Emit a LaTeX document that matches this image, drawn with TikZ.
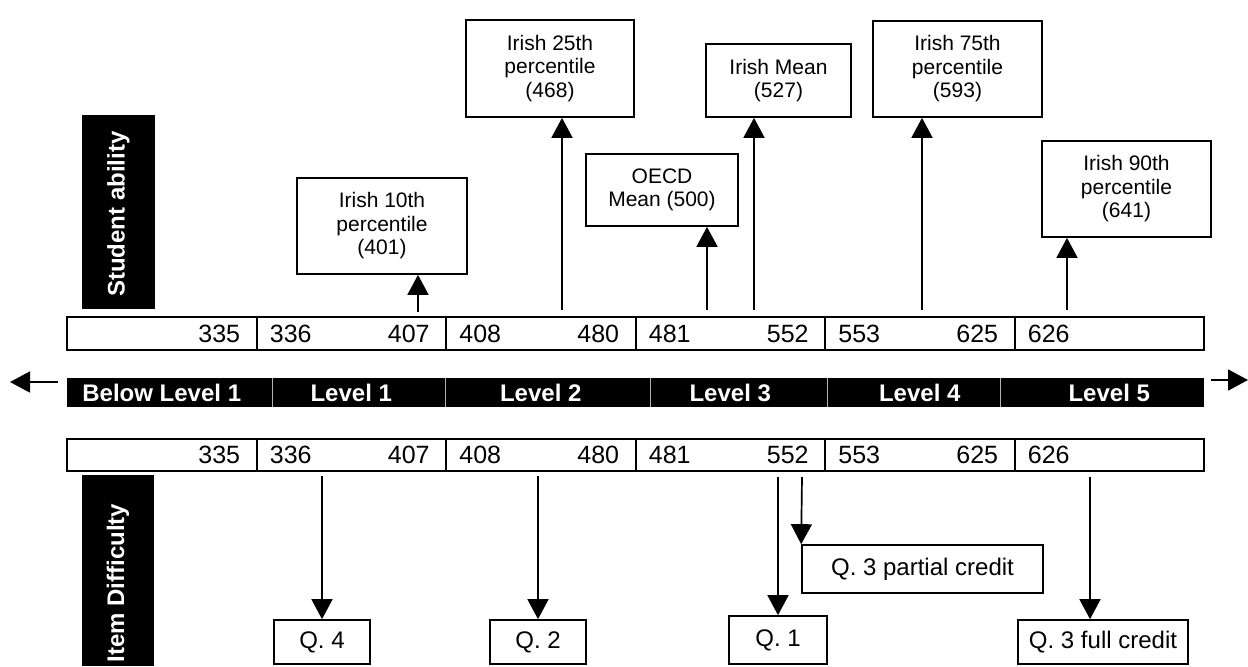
\documentclass[tikz,border=0pt]{standalone}
\usepackage{fontspec}
\setmainfont{Liberation Sans}
\usetikzlibrary{arrows.meta, positioning}

\begin{document}
\begin{tikzpicture}[
    x=0.5pt, y=-0.5pt,
    cell/.style={draw, line width=1pt, minimum width=94.75pt, inner sep=0pt},
    num/.style={inner sep=0pt, font=\fontsize{12.5}{15}\selectfont},
    band/.style={fill=black, minimum width=568.5pt, minimum height=14.5pt, inner sep=0pt},
    lvl/.style={text=white, inner sep=0pt, font=\bfseries\fontsize{12}{14}\selectfont},
    bandsep/.style={gray!60, line width=0.4pt},
    sidebox/.style={fill=black, inner sep=0pt},
    sidetext/.style={text=white, rotate=90, inner sep=0pt, font=\bfseries\fontsize{12}{14}\selectfont},
    infobox/.style={draw, line width=0.85pt, align=center, inner sep=0pt, font=\fontsize{10.5}{11.75}\selectfont},
    qbox/.style={draw, line width=0.85pt, inner sep=0pt, font=\fontsize{12}{14}\selectfont},
    arrow/.style={-{Triangle[length=10pt, width=10.5pt]}, line width=0.85pt}
]
    \useasboundingbox (0,0) rectangle (1248,666);

    % Score rows (top and bottom)
    \foreach \i in {0,...,5} {
        \node[cell, minimum height=16.5pt] (t\i) at ({161.75+189.5*\i}, 333.5) {};
        \node[cell, minimum height=16pt] (b\i) at ({161.75+189.5*\i}, 455) {};
    }
    \foreach \row in {t,b} {
        \foreach \n [count=\i from 0] in {335,407,480,552,625}
            \node[num, anchor=east] (\row hi\i) at ([xshift=-8.5pt]\row\i.east) {\n};
        \foreach \n [count=\i from 1] in {336,408,481,553,626}
            \node[num, anchor=west] (\row lo\i) at ([xshift=7pt]\row\i.west) {\n};
    }

    % Proficiency levels
    \node[band] (band) at (635.5, 392.5) {};
    \foreach \x in {272,445,650,827,1000}
        \draw[bandsep] (\x, 378) -- (\x, 407);
    \foreach \t [count=\i from 0] in {Below Level 1,Level 1,Level 2,Level 3,Level 4,Level 5}
        \node[lvl] (lv\i) at (t\i |- band) {\t};

    \coordinate (lstart) at (58,382);
    \coordinate (ltip) at (10,382);
    \coordinate (rstart) at (1211,380);
    \coordinate (rtip) at (1248,380);
    \draw[arrow] (lstart) -- (ltip);
    \draw[arrow] (rstart) -- (rtip);

    % Side labels
    \node[sidebox, minimum width=36.5pt, minimum height=97pt] (sabox) at (118.5, 212) {};
    \node[sidetext] (satext) at (118.5, 214) {Student ability};
    \node[sidebox, minimum width=36pt, minimum height=95.5pt] (idbox) at (118, 570.5) {};
    \node[sidetext] (idtext) at (118, 583) {Item Difficulty};

    % Student ability markers
    \node[infobox, minimum width=85pt, minimum height=48pt] (p10) at (382, 226) {Irish 10th\\percentile\\(401)};
    \node[infobox, minimum width=84pt, minimum height=48.5pt] (p25) at (550, 68.5) {Irish 25th\\percentile\\(468)};
    \node[infobox, minimum width=76pt, minimum height=36pt] (oecd) at (662, 190) {OECD\\Mean (500)};
    \node[infobox, minimum width=72.5pt, minimum height=36.5pt] (imean) at (778.5, 80.5) {Irish Mean\\(527)};
    \node[infobox, minimum width=84.5pt, minimum height=48pt] (p75) at (957.5, 69) {Irish 75th\\percentile\\(593)};
    \node[infobox, minimum width=84.5pt, minimum height=48pt] (p90) at (1126.5, 189) {Irish 90th\\percentile\\(641)};

    \coordinate (u10) at (418,312);
    \coordinate (u25) at (562,310);
    \coordinate (uoecd) at (707,310);
    \coordinate (umean) at (754,310);
    \coordinate (u75) at (922,310);
    \coordinate (u90) at (1067,310);
    \draw[arrow] (u10) -- (u10 |- p10.south);
    \draw[arrow] (u25) -- (u25 |- p25.south);
    \draw[arrow] (uoecd) -- (uoecd |- oecd.south);
    \draw[arrow] (umean) -- (umean |- imean.south);
    \draw[arrow] (u75) -- (u75 |- p75.south);
    \draw[arrow] (u90) -- (u90 |- p90.south);

    % Item difficulty markers
    \node[qbox, minimum width=48pt, minimum height=22pt] (q4) at (322, 642) {Q. 4};
    \node[qbox, minimum width=48pt, minimum height=22pt] (q2) at (538, 642) {Q. 2};
    \node[qbox, minimum width=49pt, minimum height=24pt] (q1) at (778, 640) {Q. 1};
    \node[qbox, minimum width=120.5pt, minimum height=24pt] (q3p) at (922.5, 569) {Q. 3 partial credit};
    \node[qbox, minimum width=85pt, minimum height=22pt] (q3f) at (1103, 642) {Q. 3 full credit};

    \coordinate (d4) at (322,476);
    \coordinate (d2) at (538,476);
    \coordinate (d1) at (778,477);
    \coordinate (d3p) at (802,477);
    \coordinate (d3f) at (1090,477);
    \draw[arrow] (d4) -- (q4.north);
    \draw[arrow] (d2) -- (q2.north);
    \draw[arrow] (d1) -- (q1.north);
    \draw[arrow] (d3p) -- (q3p.north west);
    \draw[arrow] (d3f) -- (d3f |- q3f.north);

\end{tikzpicture}
\end{document}
